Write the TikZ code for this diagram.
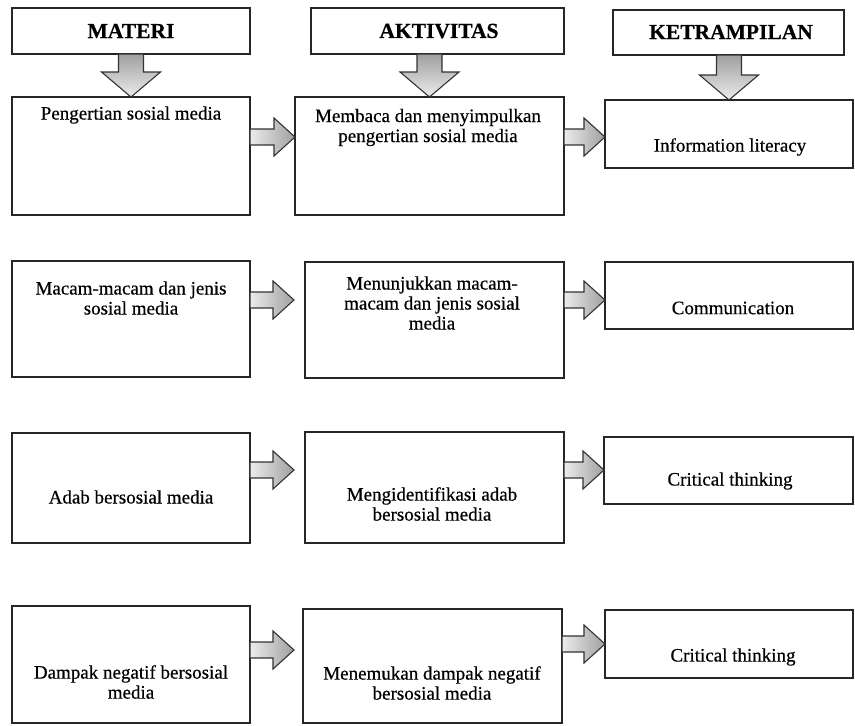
\documentclass[tikz,border=0pt]{standalone}
\usepackage{fontspec}
\setmainfont{Liberation Serif}[FakeBold=0.5]
\usetikzlibrary{calc}
\newcommand\rblock[2]{\path[rblk] let \p1=(#1), \p2=(#2) in
  (\x1,\y1+8pt) -- (\x2-21pt,\y1+8pt) -- (\x2-21pt,\y1+19pt) -- (\x2,\y1)
  -- (\x2-21pt,\y1-19pt) -- (\x2-21pt,\y1-8pt) -- (\x1,\y1-8pt) -- cycle;}
\newcommand\dblock[2]{\path[dblk] let \p1=(#1), \p2=(#2) in
  (\x1-12.5pt,\y1) -- (\x1+12.5pt,\y1) -- (\x1+12.5pt,\y2+25pt) -- (\x1+29.5pt,\y2+25pt)
  -- (\x1,\y2) -- (\x1-29.5pt,\y2+25pt) -- (\x1-12.5pt,\y2+25pt) -- cycle;}
\begin{document}
\begin{tikzpicture}[x=1pt,y=-1pt,
  box/.style={draw=black!85, line width=1.6pt, fill=white, inner sep=0pt, outer sep=0pt},
  hdr/.style={font=\fontsize{21.5}{24}\selectfont\bfseries, inner sep=0pt},
  txt/.style={font=\fontsize{19}{20}\selectfont, align=center, inner sep=0pt},
  rblk/.style={draw=black!80, line width=1.1pt, left color=gray!15, right color=gray!75},
  dblk/.style={draw=black!80, line width=1.1pt, top color=gray!75, bottom color=gray!15},
]
\useasboundingbox (0,0) rectangle (855,726);
\fill[white] (0,0) rectangle (855,726);

% headers
\node[box, minimum width=238, minimum height=46] (mh) at (131,31) {};
\node[box, minimum width=253, minimum height=46] (ah) at (437.5,31) {};
\node[box, minimum width=231, minimum height=45] (kh) at (728.5,32.5) {};
\node[hdr] (tmh) at (131,31) {MATERI};
\node[hdr] (tah) at (439,31) {AKTIVITAS};
\node[hdr] (tkh) at (731,32) {KETRAMPILAN};

% row 1
\node[box, minimum width=238, minimum height=118] (m1) at (131,156) {};
\node[box, minimum width=269, minimum height=118] (a1) at (429.5,156) {};
\node[box, minimum width=248, minimum height=68] (k1) at (729,134) {};
\node[txt] (tm1) at (131,115) {Pengertian sosial media};
\node[txt] (ta1) at (428,127.5) {Membaca dan menyimpulkan\\pengertian sosial media};
\node[txt] (tk1) at (730,147) {Information literacy};

% row 2
\node[box, minimum width=238, minimum height=116] (m2) at (131,319) {};
\node[box, minimum width=259, minimum height=116] (a2) at (434.5,320) {};
\node[box, minimum width=248, minimum height=67] (k2) at (729,295.5) {};
\node[txt] (tm2) at (131,298) {Macam-macam dan jenis\\sosial media};
\node[txt] (ta2) at (432,303) {Menunjukkan macam-\\macam dan jenis sosial\\media};
\node[txt] (tk2) at (733,308) {Communication};

% row 3
\node[box, minimum width=238, minimum height=110] (m3) at (131,488) {};
\node[box, minimum width=259, minimum height=111] (a3) at (434.5,487.5) {};
\node[box, minimum width=249, minimum height=67] (k3) at (728.5,470.5) {};
\node[txt] (tm3) at (131,497) {Adab bersosial media};
\node[txt] (ta3) at (432,504) {Mengidentifikasi adab\\bersosial media};
\node[txt] (tk3) at (730,481) {Critical thinking};

% row 4
\node[box, minimum width=238, minimum height=117] (m4) at (131,664.5) {};
\node[box, minimum width=259, minimum height=114] (a4) at (432.5,666) {};
\node[box, minimum width=248, minimum height=68] (k4) at (729,644) {};
\node[txt] (tm4) at (131,682) {Dampak negatif bersosial\\media};
\node[txt] (ta4) at (432,683) {Menemukan dampak negatif\\bersosial media};
\node[txt] (tk4) at (733,657) {Critical thinking};

% down arrows
\dblock{mh.south -| m1.north}{m1.north}
\dblock{ah.south -| a1.north}{a1.north}
\dblock{kh.south -| k1.north}{k1.north}

% right arrows
\rblock{$(m1.north east)+(0,40)$}{$(a1.north west)+(0,40)$}
\rblock{$(a1.north east)+(0,40)$}{$(k1.north west)+(0,37)$}
\rblock{$(m2.north east)+(0,39)$}{$(a2.north west)+(-11,38)$}
\rblock{$(a2.north east)+(0,38)$}{$(k2.north west)+(0,38)$}
\rblock{$(m3.north east)+(0,37)$}{$(a3.north west)+(-11,38)$}
\rblock{$(a3.north east)+(0,38)$}{$(k3.north west)+(0,33)$}
\rblock{$(m4.north east)+(0,44)$}{$(a4.north west)+(-9,41)$}
\rblock{$(a4.north east)+(0,35)$}{$(k4.north west)+(0,34)$}
\end{tikzpicture}
\end{document}
